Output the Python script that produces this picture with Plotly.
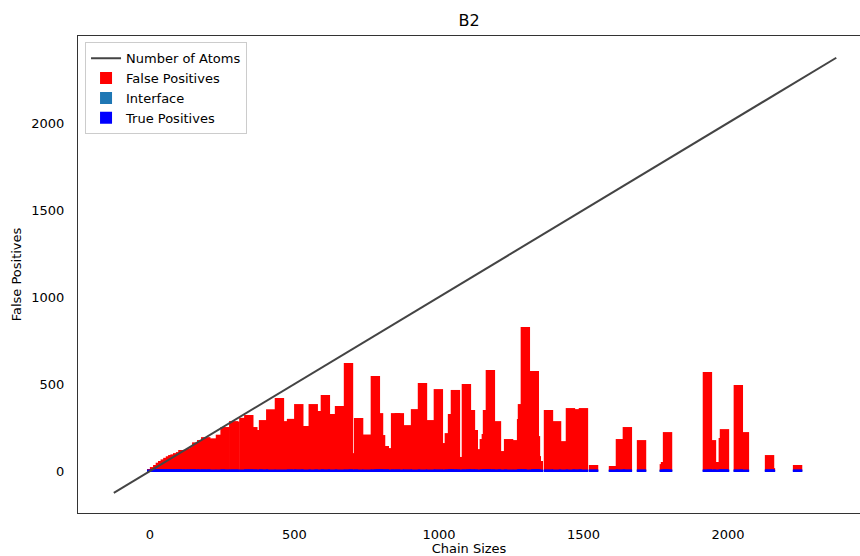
import plotly.graph_objects as go

chain_sizes = [6, 16, 27, 36, 44, 53, 62, 71, 79, 87,
               96, 106, 114, 131, 143, 154, 162, 179, 193, 213,
               244, 260, 290, 294, 325, 342, 356, 374, 393, 418,
               448, 480, 490, 515, 540, 565, 585, 607, 632, 656, 687,
               704, 722, 751, 780, 791, 798, 811, 830, 850, 863,
               891, 919, 943, 971, 998, 1029, 1036, 1047, 1057, 1076,
               1095, 1109, 1119, 1138, 1157, 1164, 1168, 1178, 1199, 1220,
               1241, 1272, 1286, 1289, 1299, 1330, 1334, 1337, 1344, 1379,
               1407, 1431, 1455, 1478, 1500, 1535, 1604, 1628, 1652, 1701,
               1780, 1784, 1791, 1929, 1943, 1964, 1984, 1988, 2036, 2057,
               2144, 2147, 2241]

false_positives = [12, 23, 35, 48, 58, 67, 76, 85, 92, 96,
                   103, 109, 121, 122, 131, 138, 165, 178, 195, 188,
                   209, 253, 287, 283, 306, 322, 253, 236, 293, 355,
                   420, 287, 300, 385, 259, 385, 345, 437, 328, 374, 621,
                   103, 305, 210, 546, 333, 207, 144, 132, 333, 333,
                   264, 356, 506, 293, 471, 161, 218, 328, 466, 81,
                   500, 351, 236, 126, 184, 213, 351, 581, 287, 115,
                   184, 178, 299, 385, 828, 575, 201, 86, 58, 351,
                   287, 172, 362, 356, 362, 35, 29, 184, 253, 178,
                   40, 52, 224, 569, 178, 52, 190, 241, 494, 224,
                   92, 17, 35]

true_positives = [9, 9, 9, 10, 9, 9, 10, 9, 9, 9,
                  10, 9, 9, 9, 10, 9, 9, 9, 10, 9,
                  9, 10, 9, 9, 9, 10, 9, 9, 10, 9,
                  9, 9, 9, 10, 9, 9, 9, 10, 9, 9, 10,
                  9, 9, 9, 10, 9, 9, 10, 9, 9, 9,
                  10, 9, 9, 9, 10, 9, 9, 10, 9, 9,
                  9, 10, 9, 9, 9, 10, 9, 9, 10, 9,
                  9, 9, 10, 9, 9, 9, 10, 9, 9, 10,
                  9, 9, 9, 10, 9, 10, 9, 10, 10, 10,
                  9, 9, 10, 10, 9, 9, 10, 10, 10, 9,
                  10, 9, 10]

interface = [5, 5, 5, 5, 5, 5, 5, 5, 5, 5,
             5, 5, 5, 5, 5, 5, 5, 5, 5, 5,
             5, 5, 5, 5, 5, 5, 5, 5, 5, 5,
             5, 5, 5, 5, 5, 5, 5, 5, 5, 5, 5,
             5, 5, 5, 5, 5, 5, 5, 5, 5, 5,
             5, 5, 5, 5, 5, 5, 5, 5, 5, 5,
             5, 5, 5, 5, 5, 5, 5, 5, 5, 5,
             5, 5, 5, 5, 5, 5, 5, 5, 5, 5,
             5, 5, 5, 5, 5, 5, 5, 5, 5, 5,
             5, 5, 5, 5, 5, 5, 5, 5, 5, 5,
             5, 5, 5]

atoms_x = [-125, 2375]
atoms_y = [-125, 2375]

BAR_W = 32.5
FONT = "DejaVu Sans"

fig = go.Figure()
fig.add_trace(go.Scatter(x=atoms_x, y=atoms_y, mode="lines", name="Number of Atoms",
                         line=dict(color="#444444", width=2)))
fig.add_trace(go.Bar(x=chain_sizes, y=false_positives, width=BAR_W, name="False Positives",
                     marker=dict(color="#ff0000", line=dict(width=0))))
fig.add_trace(go.Bar(x=chain_sizes, y=interface, width=BAR_W, name="Interface",
                     marker=dict(color="#1f77b4", line=dict(width=0))))
fig.add_trace(go.Bar(x=chain_sizes, y=true_positives, width=BAR_W, name="True Positives",
                     marker=dict(color="#0000ff", line=dict(width=0))))

fig.update_layout(
    template="none",
    width=860, height=556,
    margin=dict(l=78, r=0, t=36, b=43),
    paper_bgcolor="white", plot_bgcolor="white",
    barmode="overlay",
    font=dict(family=FONT, size=13, color="black"),
    title=dict(text="B2", x=(78 + 391) / 860, xanchor="center", y=1 - 20 / 556, yanchor="middle",
               font=dict(family=FONT, size=16, color="black")),
    showlegend=True,
    legend=dict(x=0.009, y=0.987, xanchor="left", yanchor="top", traceorder="normal",
                bgcolor="rgba(255,255,255,0.8)", bordercolor="#cccccc", borderwidth=1,
                font=dict(family=FONT, size=13, color="black")),
    xaxis=dict(range=[-249, 2457], showgrid=False, zeroline=False, showline=True,
               linecolor="#333333", linewidth=1.25, mirror=True, ticks="",
               tickvals=[0, 500, 1000, 1500, 2000], ticklabelstandoff=9,
               tickfont=dict(family=FONT, size=13, color="black"),
               title=dict(text="Chain Sizes", standoff=1,
                          font=dict(family=FONT, size=13, color="black"))),
    yaxis=dict(range=[-241, 2500], showgrid=False, zeroline=False, showline=True,
               linecolor="#333333", linewidth=1.25, mirror=False, ticks="",
               tickvals=[0, 500, 1000, 1500, 2000], ticklabelstandoff=10,
               tickfont=dict(family=FONT, size=13, color="black"),
               title=dict(text="False Positives", standoff=6,
                          font=dict(family=FONT, size=13, color="black"))),
)

fig.write_html("out.html")
